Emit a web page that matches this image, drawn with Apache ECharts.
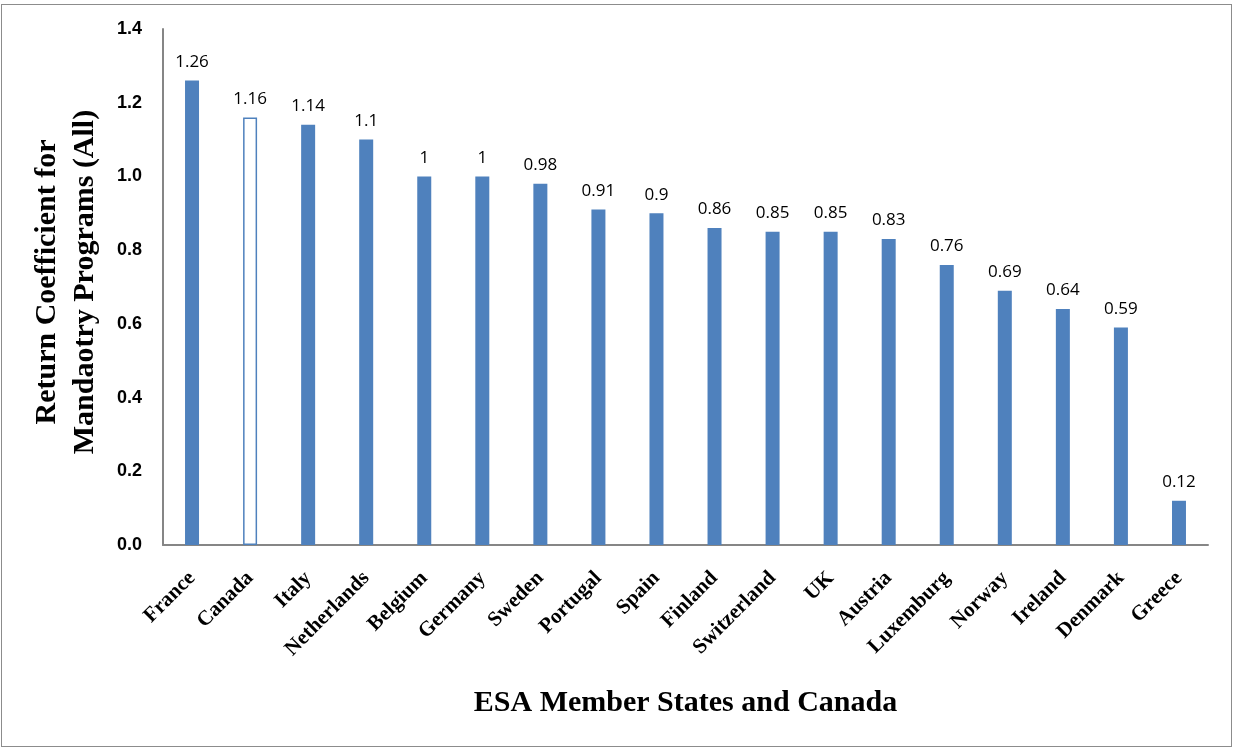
<!DOCTYPE html>
<html><head><meta charset="utf-8">
<script src="https://cdn.jsdelivr.net/npm/echarts@6/dist/echarts.min.js"></script>
<style>html,body{margin:0;padding:0;background:#fff}#c{width:1233px;height:747px}
#frame{position:absolute;left:1px;top:4px;width:1231px;height:743px;border:1px solid #8c8c8c;box-sizing:border-box;pointer-events:none}</style>
</head><body><div id="c"></div><div id="frame"></div>
<script>
const categories = ["France","Canada","Italy","Netherlands","Belgium","Germany","Sweden","Portugal","Spain","Finland","Switzerland","UK","Austria","Luxemburg","Norway","Ireland","Denmark","Greece"];
const values = [1.26,1.16,1.14,1.1,1,1,0.98,0.91,0.9,0.86,0.85,0.85,0.83,0.76,0.69,0.64,0.59,0.12];
const yTicks = ["0.0","0.2","0.4","0.6","0.8","1.0","1.2","1.4"];
const hollow = "Canada";
const blue = "#4f81bd";
const chart = echarts.init(document.getElementById('c'));
chart.setOption({
  animation:false,
  grid:{left:163,right:25,top:29,bottom:202,containLabel:false},
  xAxis:{type:'category',data:categories,
    axisLine:{lineStyle:{color:'#868686',width:2}},axisTick:{show:false},
    axisLabel:{rotate:45,interval:0,margin:30,fontFamily:'Liberation Serif',fontWeight:'bold',fontSize:21,color:'#000'},
    name:'ESA Member States and Canada',nameLocation:'middle',nameGap:143,
    nameTextStyle:{fontFamily:'Liberation Serif',fontWeight:'bold',fontSize:30,color:'#000'}},
  yAxis:{type:'value',min:0,max:1.4,interval:0.2,
    axisLine:{show:true,lineStyle:{color:'#868686',width:2}},axisTick:{show:false},splitLine:{show:false},
    axisLabel:{margin:21,fontFamily:'Liberation Sans',fontWeight:'bold',fontSize:18,color:'#000',
      formatter:(v)=>yTicks[Math.round(v/0.2)]},
    name:'Return Coefficient for\nMandaotry Programs (All)',nameLocation:'middle',nameGap:59,
    nameTextStyle:{fontFamily:'Liberation Serif',fontWeight:'bold',fontSize:30,color:'#000',lineHeight:38,padding:[0,0,0,10]}},
  series:[{type:'bar',barWidth:14,
    data:categories.map((c,i)=>c===hollow?{value:values[i],itemStyle:{color:'#fff',borderColor:blue,borderWidth:1.5}}:{value:values[i]}),
    itemStyle:{color:blue},
    label:{show:true,position:'top',distance:10,fontFamily:'Open Sans',fontSize:17,color:'#000'}}]
});
</script></body></html>
